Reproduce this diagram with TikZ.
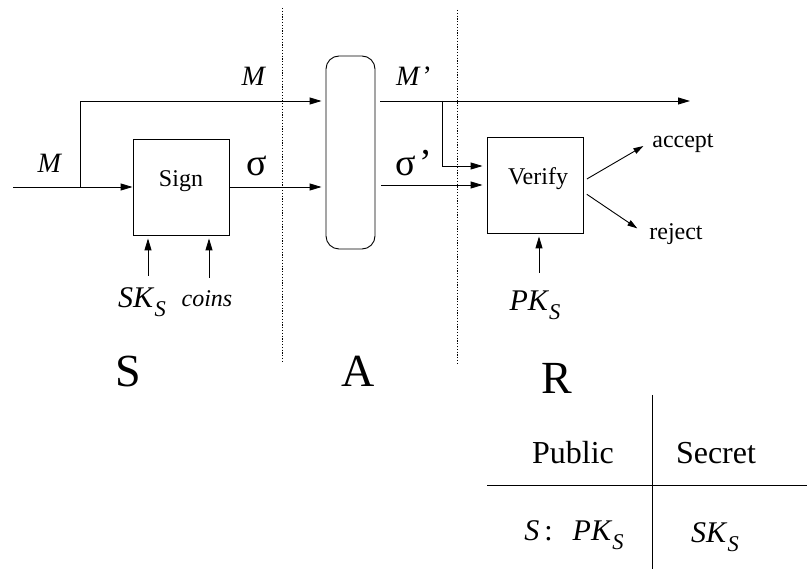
\documentclass[tikz,border=0pt]{standalone}
\usepackage{fontspec}
\setmainfont{Liberation Serif}
\usetikzlibrary{arrows.meta}
\newcommand{\fs}[1]{\fontsize{#1}{#1}\selectfont}
\newcommand{\subx}[2]{\textit{#1}\raisebox{-0.3em}{\scalebox{0.75}{\textit{#2}}}}
\begin{document}
\begin{tikzpicture}[x=1pt, y=-1pt, line width=0.9pt,
    arr/.style={-{Triangle[length=12pt,width=7pt]}},
    smallarr/.style={-{Triangle[length=10pt,width=6pt]}},
    box/.style={draw, minimum width=96pt, minimum height=96pt},
    sep/.style={dash pattern=on 1.2pt off 1.6pt},
    small/.style={font=\fs{24}},
    lbl/.style={font=\fs{28}},
    key/.style={font=\fs{30}},
    greek/.style={font=\fs{38}, anchor=base},
    big/.style={font=\fs{46}},
    tab/.style={font=\fs{32}}]
    \useasboundingbox (0,0) rectangle (807,569);

    % Boxes
    \node[box] (sign) at (181,187) {};
    \node[small] at ([yshift=6pt]sign.center) {Sign};
    \node[draw, rounded corners=13pt, minimum width=49pt, minimum height=193pt] (adv) at (350.5,152.5) {};
    \node[box] (verify) at (535,185) {};
    \node[small] at ([xshift=3pt,yshift=6pt]verify.center) {Verify};

    % Separators
    \draw[sep] (282,8) -- (282,363);
    \draw[sep] (457,10) -- (457,363);

    % Sender side
    \coordinate (in) at (13,187);
    \coordinate (split) at (80,187);
    \coordinate (mtop) at (80,101);
    \draw[arr] (in) -- (sign.west);
    \draw[arr, shorten >=4pt] (split) -- (mtop) -- (mtop -| adv.west);
    \draw[arr, shorten >=4pt] (sign.east) -- (sign.east -| adv.west);
    \node[lbl] (min) at (50,163) {\textit{M}};
    \node[lbl] (mlbl) at (254,76) {\textit{M}};
    \node[greek] (sig) at (257,176) {σ};

    % Receiver side
    \coordinate (mout) at (690,101);
    \coordinate (tap) at (442,101);
    \draw[arr, shorten <=5pt] (adv.east |- mtop) -- (mout);
    \draw[arr, shorten >=4pt] (tap) |- ([yshift=19pt]verify.west);
    \draw[arr, shorten <=6pt, shorten >=4pt] (adv.east |- verify.west) -- (verify.west);
    \node[lbl] (mprime) at (414,76) {\textit{M}\kern2pt’};
    \node[greek] (sigp) at (414,176) {σ\kern3pt’};

    % Outcomes
    \node[small] (accept) at (683,143) {accept};
    \node[small] (reject) at (676,234) {reject};
    \draw[smallarr, shorten <=4pt, shorten >=6pt] ([yshift=4pt]verify.east) -- (accept.west);
    \draw[smallarr, shorten <=4pt, shorten >=10pt] ([yshift=-7pt]verify.east) -- (reject.west);

    % Keys and coins
    \coordinate (skfoot) at (148,276);
    \coordinate (coinfoot) at (209,278);
    \coordinate (pkfoot) at (539,273);
    \draw[arr, shorten >=3pt] (skfoot) -- (skfoot |- sign.south);
    \draw[arr, shorten >=3pt] (coinfoot) -- (coinfoot |- sign.south);
    \draw[arr, shorten >=3pt] (pkfoot) -- (pkfoot |- verify.south);
    \node[key] (sk) at (142,302) {\subx{SK}{S}};
    \node[small] (coins) at (207,299) {\textit{coins}};
    \node[key] (pk) at (535,305) {\subx{PK}{S}};

    % Parties
    \node[big] (snd) at (128,371) {S};
    \node[big] (adl) at (358,371) {A};
    \node[big] (rcv) at (557,378) {R};

    % Key table
    \draw (652,395) -- (652,569);
    \draw (487,485) -- (807,485);
    \node[tab] (pub) at (573,453) {Public};
    \node[tab] (sec) at (716,453) {Secret};
    \node[key] (pubk) at (574,535) {\textit{S}\,:\enspace\,\subx{PK}{S}};
    \node[key] (seck) at (715,537) {\subx{SK}{S}};
\end{tikzpicture}
\end{document}
